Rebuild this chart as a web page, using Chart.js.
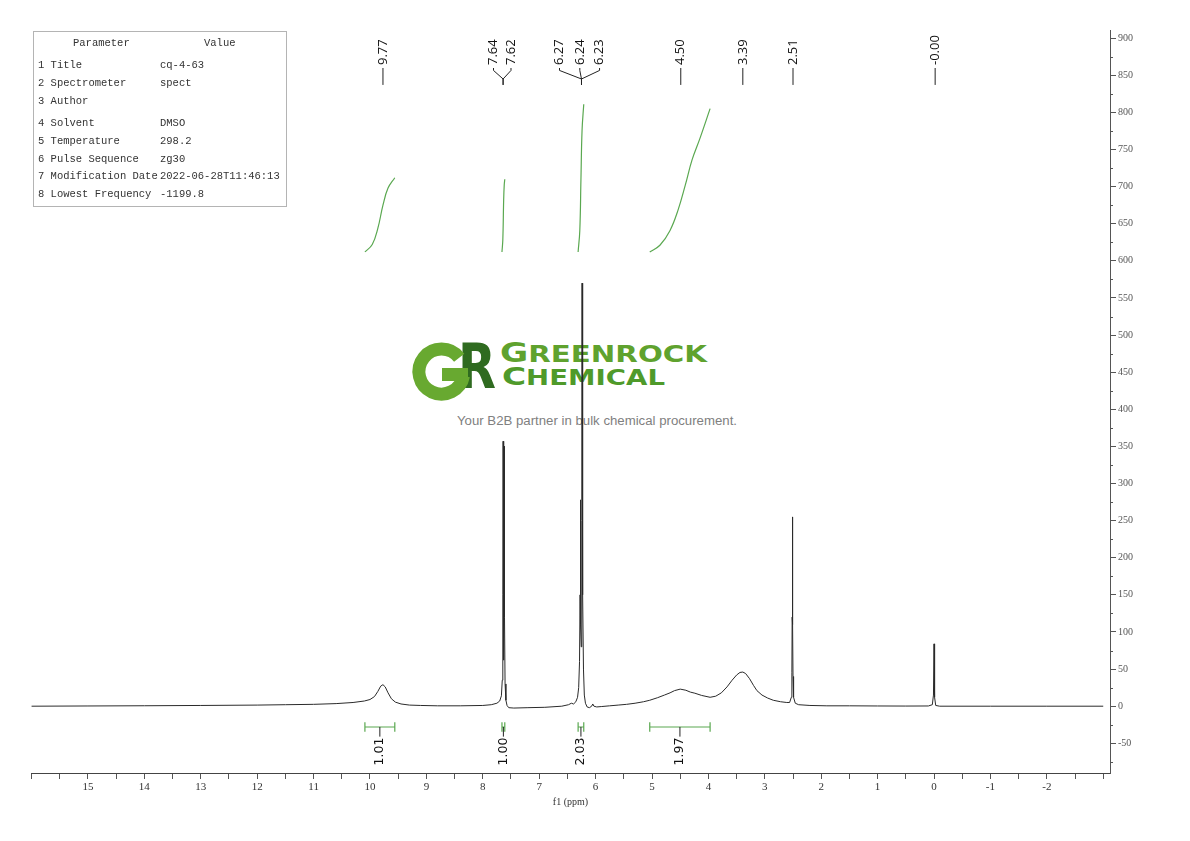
<!DOCTYPE html>
<html>
<head>
<meta charset="utf-8">
<script src="https://cdn.jsdelivr.net/npm/chart.js@4.4.1/dist/chart.umd.min.js"></script>
<style>
html,body{margin:0;padding:0;background:#fff;}
#wrap{position:relative;width:1190px;height:841px;overflow:hidden;background:#fff;}
#logo{position:absolute;left:0;top:0;z-index:0;}
#c{position:absolute;left:0;top:0;z-index:1;}
#params{position:absolute;left:33px;top:31px;width:252px;height:174px;border:1px solid #b4b4b4;z-index:2;
  font-family:"Liberation Mono",monospace;font-size:10.5px;color:#333;}
#params div{position:absolute;white-space:pre;line-height:14px;}
</style>
</head>
<body>
<div id="wrap">
<svg id="logo" width="1190" height="841" xmlns="http://www.w3.org/2000/svg">
  <text x="458" y="388" font-family="DejaVu Sans" font-weight="bold" font-size="63" fill="#2f6b20" textLength="38" lengthAdjust="spacingAndGlyphs">R</text>
  <path d="M459.2,357.8 A22.5,22.5 0 1 0 463.5,376" fill="none" stroke="#68a930" stroke-width="13"/>
  <rect x="442" y="368" width="26" height="13" fill="#68a930"/>
  <text x="500" y="362" font-family="DejaVu Sans" font-weight="bold" fill="#5fa22e" textLength="207" lengthAdjust="spacingAndGlyphs"><tspan font-size="27">G</tspan><tspan font-size="23">REENROCK</tspan></text>
  <text x="502" y="385" font-family="DejaVu Sans" font-weight="bold" fill="#4f9a2a" textLength="163" lengthAdjust="spacingAndGlyphs"><tspan font-size="25">C</tspan><tspan font-size="21">HEMICAL</tspan></text>
  <text x="457" y="425" font-family="Liberation Sans" font-size="12" fill="#808080" textLength="280" lengthAdjust="spacingAndGlyphs">Your B2B partner in bulk chemical procurement.</text>
</svg>
<canvas id="c" width="1190" height="841"></canvas>
<div id="params"></div>
</div>
<script>
// ---------- data ----------
const paramNames = ['1 Title','2 Spectrometer','3 Author','4 Solvent','5 Temperature','6 Pulse Sequence','7 Modification Date','8 Lowest Frequency'];
const paramValues = ['cq-4-63','spect','','DMSO','298.2','zg30','2022-06-28T11:46:13','-1199.8'];

const ppm = [16.0,15.0,14.0,13.0,12.0,11.5,11.0,10.6,10.3,10.1,10.0,9.92,9.86,9.81,9.77,9.73,9.68,9.62,9.55,9.45,9.3,9.1,8.8,8.4,8.0,7.85,7.75,7.70,7.67,7.655,7.645,7.64,7.635,7.63,7.625,7.62,7.615,7.605,7.59,7.57,7.54,7.45,7.2,6.9,6.6,6.48,6.43,6.39,6.35,6.32,6.30,6.285,6.275,6.27,6.265,6.255,6.245,6.24,6.235,6.23,6.225,6.215,6.20,6.18,6.15,6.11,6.07,6.05,6.03,5.98,5.9,5.75,5.6,5.45,5.3,5.15,5.04,4.9,4.78,4.68,4.6,4.5,4.4,4.32,4.24,4.12,3.97,3.87,3.77,3.67,3.58,3.5,3.44,3.39,3.34,3.27,3.2,3.14,3.05,2.95,2.85,2.72,2.61,2.56,2.53,2.52,2.515,2.51,2.505,2.50,2.49,2.46,2.40,2.2,1.9,1.5,1.0,0.5,0.1,0.03,0.01,0.0,-0.01,-0.03,-0.1,-1.0,-2.0,-3.0];
const intensity = [0,0.3,0.6,1,1.5,2,2.5,3.5,5,7,9,13,20,27,29,26,18,10,5.5,3,1.5,1,0.5,0.5,1,2,4,7,14,35,150,357,120,62,120,350,120,30,8,1,-2,-2.5,-2,-1.5,0,2,4,3,6,12,25,60,150,278,110,80,250,570,260,314,150,50,15,4,-1,-2,0,3,0,-1,-0.5,0.5,1.5,2.5,4,6,8,11.5,15,18,21,23,21.5,19,17.5,14.5,12,13.5,18,26,35,42,45.5,46,44,37,28,21,15,11,8,6,5,5,12,45,120,255,110,40,12,4,2,1,0.5,0.5,0.3,0.2,0.3,2,15,84,12,1,0,0,0,0];

// integral curves (ppm, running integral drawn on the intensity scale)
const int1Ppm = [10.09,9.96,9.86,9.77,9.68,9.56];
const int1Val = [612,622,644,675,698,712];
const int2Ppm = [7.66,7.645,7.63,7.62,7.61];
const int2Val = [612,628,682,702,710];
const int3Ppm = [6.31,6.28,6.26,6.24,6.21];
const int3Val = [612,641,709,776,811];
const int4Ppm = [5.04,4.86,4.68,4.54,4.41,4.29,4.15,3.97];
const int4Val = [612,621,641,668,702,736,765,805];

const integralFrom = [10.09,7.66,6.31,5.04];
const integralTo = [9.56,7.61,6.21,3.97];
const integralText = ['1.01','1.00','2.03','1.97'];

const peakLabelText = ['9.77','7.64','7.62','6.27','6.24','6.23','4.50','3.39','2.51','-0.00'];
const peakLabelPos = [9.77,7.81,7.50,6.64,6.28,5.93,4.49,3.39,2.50,-0.02];
const peakAnchor = [9.77,7.64,7.64,6.25,6.25,6.25,4.49,3.39,2.50,-0.02];

const xTickLabels = [15,14,13,12,11,10,9,8,7,6,5,4,3,2,1,0,-1,-2];
const yTickValues = [-50,0,50,100,150,200,250,300,350,400,450,500,550,600,650,700,750,800,850,900];
const yMinorValues = [-75,-25,25,75,125,175,225,275,325,375,425,475,525,575,625,675,725,775,825,875];

// ---------- table ----------
const params = document.getElementById('params');
function addCell(txt, left, centerY){
  const d = document.createElement('div');
  d.textContent = txt; d.style.left = left + 'px'; d.style.top = (centerY - 7 - 32) + 'px';
  params.appendChild(d);
}
addCell('Parameter', 39, 43);
addCell('Value', 170, 43);
const rowY = [65,83,101,123,141,159,176,194];
paramNames.forEach((n,i)=>{ addCell(n, 4, rowY[i]); addCell(paramValues[i], 126, rowY[i]); });

// ---------- chart ----------
const spectrum = ppm.map((p,i)=>({x:p, y:intensity[i]}));
const mk = (a,b)=>a.map((p,i)=>({x:p,y:b[i]}));
const green = '#5aa850';

const minorTicks = {
  id:'minorTicks',
  afterDraw(chart){
    const ys = chart.scales.y, ctx = chart.ctx;
    ctx.save(); ctx.strokeStyle='#555'; ctx.lineWidth=1;
    yMinorValues.forEach(v=>{
      const py = Math.round(ys.getPixelForValue(v))+0.5;
      ctx.beginPath(); ctx.moveTo(ys.left, py); ctx.lineTo(ys.left+3, py); ctx.stroke();
    });
    ctx.restore();
  }
};

const annotations = {
  id:'annotations',
  afterDatasetsDraw(chart){
    const xs = chart.scales.x, ys = chart.scales.y, ctx = chart.ctx;
    ctx.save();
    const yText = ys.getPixelForValue(863.8);
    const yL0 = ys.getPixelForValue(859.8);
    const yL1 = ys.getPixelForValue(856.5);
    const yJ = ys.getPixelForValue(845);
    const yEnd = ys.getPixelForValue(837);
    ctx.fillStyle = '#111'; ctx.strokeStyle = '#222'; ctx.lineWidth = 1;
    ctx.font = '13px "Open Sans"';
    peakLabelText.forEach((t,i)=>{
      const xl = xs.getPixelForValue(peakLabelPos[i]);
      const xa = xs.getPixelForValue(peakAnchor[i]);
      ctx.save(); ctx.translate(xl, yText); ctx.rotate(-Math.PI/2);
      ctx.textAlign='left'; ctx.textBaseline='middle'; ctx.fillText(t,0,0); ctx.restore();
      ctx.beginPath();
      if (peakLabelPos[i] === peakAnchor[i]) {
        ctx.moveTo(xl, yL0); ctx.lineTo(xl, yEnd);
      } else {
        ctx.moveTo(xl, yL0); ctx.lineTo(xl, yL1); ctx.lineTo(xa, yJ); ctx.lineTo(xa, yEnd);
      }
      ctx.stroke();
    });
    const yBar = ys.getPixelForValue(-28);
    const yTickTop = ys.getPixelForValue(-21.5);
    const yTickBot = ys.getPixelForValue(-34.5);
    const yLabTop = ys.getPixelForValue(-41);
    ctx.font = '12.5px "DejaVu Sans"';
    integralText.forEach((t,i)=>{
      const x0 = xs.getPixelForValue(integralFrom[i]);
      const x1 = xs.getPixelForValue(integralTo[i]);
      const xc = (x0+x1)/2;
      ctx.strokeStyle = green; ctx.lineWidth = 1.2;
      ctx.beginPath();
      ctx.moveTo(x0, yBar); ctx.lineTo(x1, yBar);
      ctx.moveTo(x0, yTickTop); ctx.lineTo(x0, yTickBot);
      ctx.moveTo(x1, yTickTop); ctx.lineTo(x1, yTickBot);
      ctx.stroke();
      ctx.strokeStyle = '#222'; ctx.lineWidth = 1;
      ctx.beginPath(); ctx.moveTo(xc, yBar); ctx.lineTo(xc, yLabTop); ctx.stroke();
      ctx.save(); ctx.translate(xc, yLabTop+1); ctx.rotate(-Math.PI/2);
      ctx.textAlign='right'; ctx.textBaseline='middle'; ctx.fillStyle='#111'; ctx.fillText(t,0,0); ctx.restore();
    });
    ctx.restore();
  }
};

new Chart(document.getElementById('c'), {
  type:'line',
  data:{ datasets:[
    {data:spectrum, borderColor:'#2a2a2a', borderWidth:1, pointRadius:0, tension:0, fill:false},
    {data:mk(int1Ppm,int1Val), borderColor:green, borderWidth:1.2, pointRadius:0, tension:0.4, fill:false},
    {data:mk(int2Ppm,int2Val), borderColor:green, borderWidth:1.2, pointRadius:0, tension:0.4, fill:false},
    {data:mk(int3Ppm,int3Val), borderColor:green, borderWidth:1.2, pointRadius:0, tension:0.4, fill:false},
    {data:mk(int4Ppm,int4Val), borderColor:green, borderWidth:1.2, pointRadius:0, tension:0.4, fill:false}
  ]},
  options:{
    responsive:false, animation:false, devicePixelRatio:1,
    layout:{padding:{left:31, top:30, right:40, bottom:33}},
    plugins:{legend:{display:false}, tooltip:{enabled:false}},
    scales:{
      x:{type:'linear', reverse:true, min:-3.12, max:16.01,
        afterFit(s){ s.height = 35; },
        ticks:{stepSize:0.5, autoSkip:false, maxRotation:0, includeBounds:false, padding:2, color:'#333',
          font:{family:'Liberation Serif', size:11},
          callback(v){ const r=Math.round(v); return (Math.abs(v-r)<1e-6 && xTickLabels.includes(r)) ? String(r) : ''; }},
        grid:{drawOnChartArea:false, drawTicks:true, tickLength:6, color:'#555'},
        border:{display:true, color:'#444', width:1},
        title:{display:true, text:'f1 (ppm)', color:'#333', font:{family:'Liberation Serif', size:10}, padding:0}
      },
      y:{type:'linear', position:'right', min:-90, max:911,
        afterFit(s){ s.width = 40; },
        afterBuildTicks(s){ s.ticks = yTickValues.map(v=>({value:v})); },
        ticks:{autoSkip:false, padding:2, color:'#555', font:{family:'Liberation Serif', size:10},
          callback(v){ return String(v); }},
        grid:{drawOnChartArea:false, drawTicks:true, tickLength:6, color:'#555'},
        border:{display:true, color:'#555', width:1}
      }
    }
  },
  plugins:[minorTicks, annotations]
});
</script>
</body>
</html>
